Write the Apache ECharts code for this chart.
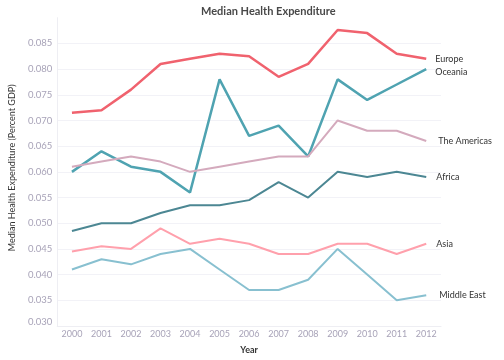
<!DOCTYPE html>
<html>
<head>
<meta charset="utf-8">
<script src="https://cdn.jsdelivr.net/npm/echarts@6/dist/echarts.min.js"></script>
<style>html,body{margin:0;padding:0;background:#fff}#c{width:504px;height:360px}</style>
</head>
<body>
<div id="c"></div>
<script>
var years = ['2000','2001','2002','2003','2004','2005','2006','2007','2008','2009','2010','2011','2012'];
var europe     = [0.0715,0.072,0.076,0.081,0.082,0.083,0.0825,0.0785,0.081,0.0876,0.087,0.083,0.082];
var oceania    = [0.060,0.064,0.061,0.060,0.056,0.078,0.067,0.069,0.063,0.078,0.074,0.077,0.080];
var americas   = [0.061,0.062,0.063,0.062,0.060,0.061,0.062,0.063,0.063,0.070,0.068,0.068,0.066];
var africa     = [0.0485,0.050,0.050,0.052,0.0535,0.0535,0.0545,0.058,0.055,0.060,0.059,0.060,0.059];
var asia       = [0.0445,0.0455,0.045,0.049,0.046,0.047,0.046,0.044,0.044,0.046,0.046,0.044,0.046];
var middleEast = [0.041,0.043,0.042,0.044,0.045,0.041,0.037,0.037,0.039,0.045,0.040,0.035,0.036];

var FONT = 'Lato, "Open Sans", sans-serif';
function mk(name, data, color, width, off) {
  return {
    name: name, type: 'line', data: data, symbol: 'none', smooth: false,
    lineStyle: {color: color, width: width}, itemStyle: {color: color},
    endLabel: {show: true, formatter: name, color: '#333', fontFamily: FONT, fontSize: 9,
      distance: 0, offset: off || [9, 0]},
    emphasis: {disabled: true}, z: 3
  };
}
var chart = echarts.init(document.getElementById('c'), null, {renderer: 'canvas'});
chart.setOption({
  animation: false,
  title: {text: 'Median Health Expenditure', left: 196, top: 1,
    textStyle: {fontFamily: FONT, fontSize: 11, fontWeight: 'bold', color: '#484848'}},
  grid: {left: 51, right: 63, top: 17.7, bottom: 32.5},
  xAxis: {
    type: 'category', data: years, boundaryGap: true,
    name: 'Year', nameLocation: 'middle', nameGap: 20,
    nameTextStyle: {fontFamily: FONT, fontSize: 9, fontWeight: 'bold', color: '#333'},
    axisLine: {show: true, lineStyle: {color: '#eeeef3'}},
    axisTick: {show: false},
    axisLabel: {color: '#a8a3b8', fontFamily: FONT, fontSize: 9, margin: 4},
    splitLine: {show: false}
  },
  yAxis: {
    type: 'value', min: 0.03, max: 0.09, interval: 0.005,
    name: 'Median Health Expenditure (Percent GDP)', nameLocation: 'middle', nameGap: 37,
    nameTextStyle: {fontFamily: FONT, fontSize: 9, color: '#333', padding: [0, 0, 0, 8]},
    axisLine: {show: true, lineStyle: {color: '#eeeef3'}},
    axisTick: {show: false},
    axisLabel: {color: '#a8a3b8', fontFamily: FONT, fontSize: 9.5, margin: 5, showMaxLabel: false,
      formatter: function (v) {
        var s = v.toFixed(3);
        return Math.abs(v - 0.03) < 1e-9 ? '{m|' + s + '}' : s;
      },
      rich: {m: {color: '#a8a3b8', fontFamily: FONT, fontSize: 9.5, padding: [0, 0, 9, 0]}}},
    splitLine: {show: true, showMaxLine: false, showMinLine: false, lineStyle: {color: '#f2f2f7', width: 1}}
  },
  series: [
    mk('Europe', europe, '#f0626e', 2.5, [9, 0]),
    mk('Oceania', oceania, '#4fa3b1', 2.5, [9, 3]),
    mk('The Americas', americas, '#d4aabd', 2, [12, 0]),
    mk('Africa', africa, '#4c8793', 2, [10, 0]),
    mk('Asia', asia, '#ffa0ac', 2, [10, 0]),
    mk('Middle East', middleEast, '#88c0d0', 2, [13, 0])
  ]
});
</script>
</body>
</html>
